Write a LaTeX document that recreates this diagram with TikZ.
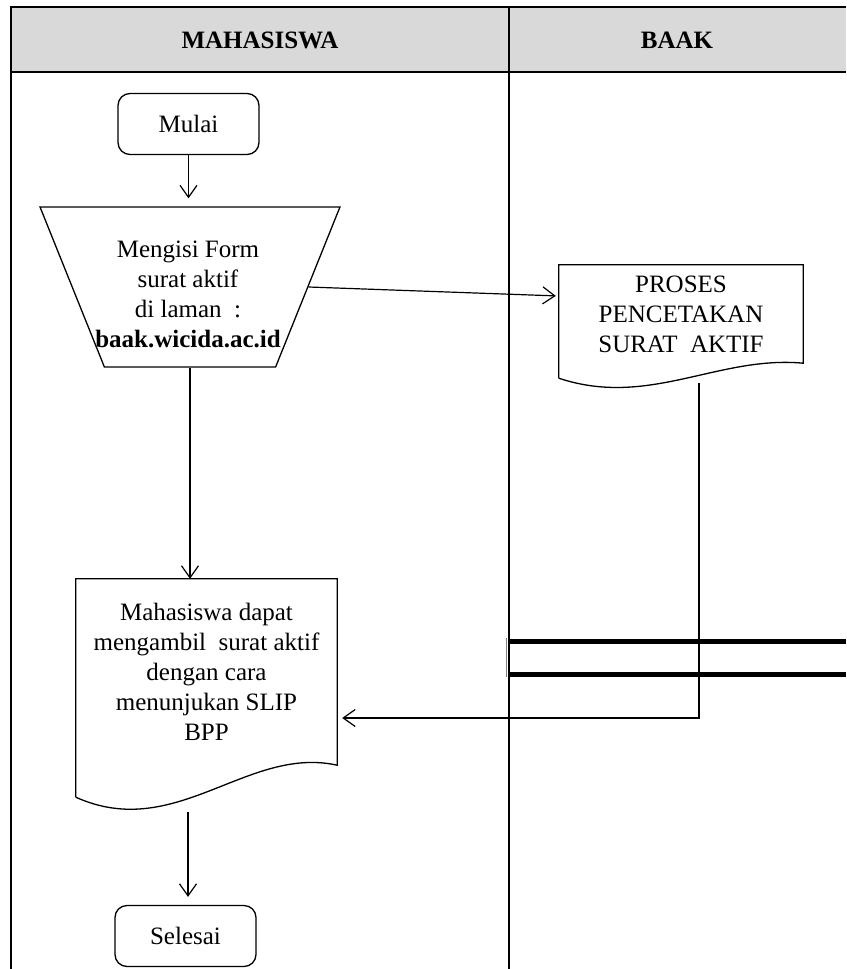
\documentclass[tikz,border=0pt]{standalone}
\usepackage{fontspec}
\setmainfont{Liberation Serif}
\usepackage{xcolor}
\usetikzlibrary{shapes.geometric,arrows.meta}
\definecolor{headgray}{HTML}{D9D9D9}

\begin{document}
\begin{tikzpicture}[x=1pt,y=-1pt]
    % Define node styles
    \tikzstyle{terminal} = [rectangle, rounded corners=12pt, draw, line width=1.3pt, minimum width=141pt, minimum height=61pt, font=\fontsize{25}{30}\selectfont]
    \tikzstyle{manual} = [trapezium, shape border rotate=180, trapezium stretches=true, trapezium left angle=69.4, trapezium right angle=69.4, draw, line width=1.3pt, minimum width=300pt, minimum height=160pt]
    \tikzstyle{txt} = [align=center, inner sep=0pt, font=\fontsize{25}{30}\selectfont]
    \tikzstyle{doc} = [rectangle, inner sep=0pt, align=center, font=\fontsize{25}{30}\selectfont]
    \tikzstyle{head} = [font=\bfseries\fontsize{25}{30}\selectfont]
    \tikzstyle{flow} = [-{Straight Barb[length=12pt,width=17pt]}, line width=1.2pt]
    \tikzstyle{frame} = [line width=1.6pt]

    \useasboundingbox (0,0) rectangle (846,969);

    % Swimlanes
    \fill[headgray] (11,7) rectangle (846,72);
    \draw[frame] (846,7) -- (11,7) -- (11,969);
    \draw[frame] (11,72) -- (846,72);
    \draw[frame] (509,7) -- (509,969);
    \node[head] (lane1) at (260,40) {MAHASISWA};
    \node[head] (lane2) at (677,40) {BAAK};

    % Nodes
    \node[terminal] (mulai) at (188.5,124) {Mulai};
    \node[manual] (isi) at (190,287) {};
    \node[txt] (isitxt) at (188,294) {Mengisi Form\\surat aktif\\di laman~~:\\\textbf{baak.wicida.ac.id}};
    \node[doc, minimum width=244pt, minimum height=98pt] (proses) at (681,314) {PROSES\\PENCETAKAN\\SURAT~~AKTIF};
    \node[doc, minimum width=261pt, minimum height=186pt] (ambil) at (206.5,672) {Mahasiswa dapat\\mengambil~~surat aktif\\dengan cara\\menunjukan SLIP\\BPP};
    \node[terminal] (selesai) at (185.5,936) {Selesai};

    % Document outlines
    \draw[line width=1.3pt] ([yshift=-15pt]proses.south west) -- (proses.north west) -- (proses.north east) -- (proses.south east)
        .. controls +(-85,-8) and +(90,30) .. ([yshift=-15pt]proses.south west);
    \draw[line width=1.3pt] ([yshift=-32pt]ambil.south west) -- (ambil.north west) -- (ambil.north east) -- (ambil.south east)
        .. controls +(-90,-20) and +(100,45) .. ([yshift=-32pt]ambil.south west);

    % Connectors
    \coordinate (cetak) at (699,383);
    \coordinate (keluar) at (188,812);
    \draw[flow, shorten >=8pt] (mulai.south) -- (mulai.south |- isi.north);
    \draw[flow] (isi.south) -- (isi.south |- ambil.north);
    \draw[flow, shorten >=3pt] (isi.east) -- ([yshift=18pt]proses.west);
    \draw[flow, shorten >=5pt] (cetak) |- ([yshift=-46pt]ambil.east);
    \draw[flow, shorten >=8pt] (keluar) -- (keluar |- selesai.north);

    % Parallel bar
    \draw[line width=5pt] (508,641) -- (846,641);
    \draw[line width=5pt] (508,674) -- (846,674);
    \draw[line width=1pt, gray] (506,638) -- (506,677);
\end{tikzpicture}
\end{document}
